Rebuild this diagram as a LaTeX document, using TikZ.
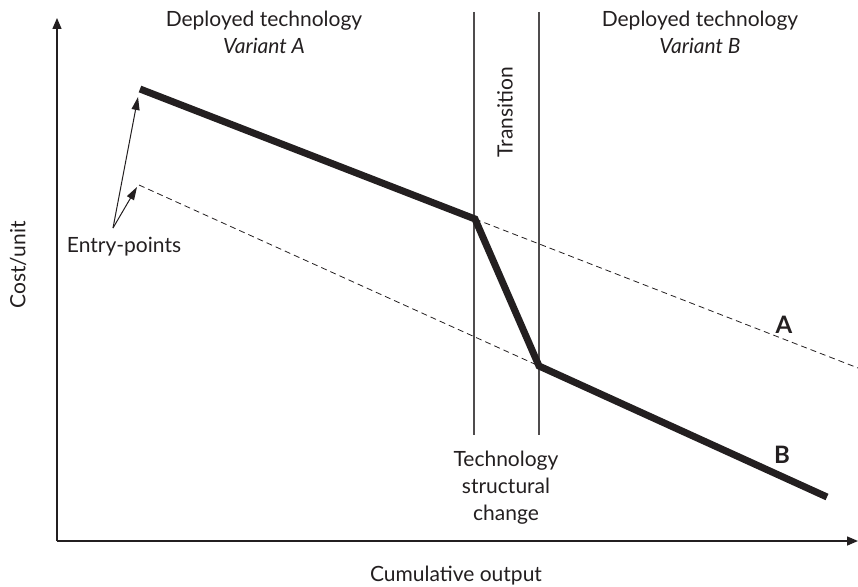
\documentclass[tikz,border=0pt]{standalone}
\usepackage{fontspec}
\setmainfont{Lato}
\usetikzlibrary{arrows.meta}
\definecolor{ink}{HTML}{231F20}
\begin{document}
\begin{tikzpicture}[x=1pt,y=-1pt,
    every node/.style={font=\fontsize{21}{27}\selectfont, text=ink, inner sep=0pt},
    axis/.style={draw=ink, line width=1.5pt, -{Triangle[length=11pt,width=9pt]}},
    cost/.style={draw=ink, line width=7pt},
    trend/.style={draw=ink, line width=0.8pt, dash pattern=on 6pt off 4pt},
    border/.style={draw=ink!80, line width=1.5pt},
    curvename/.style={font=\fontsize{24}{28}\selectfont\bfseries},
    pointer/.style={draw=ink, line width=1pt, -{Triangle[length=13pt,width=8pt]}}]
    \useasboundingbox (0,0) rectangle (858,586);

    \coordinate (origin) at (57,541);
    \coordinate (ytop) at (57,18);
    \coordinate (xend) at (858,541);
    \draw[axis] (origin) -- (ytop);
    \draw[axis] (origin) -- (xend);

    \coordinate (startA) at (140,89);
    \coordinate (kneeA) at (475,219);
    \coordinate (kneeB) at (539,366);
    \coordinate (endB) at (827,497);
    \coordinate (startB) at (139,185);
    \coordinate (endA) at (858,368);

    \draw[border] (474,12) coordinate (lefttop) -- (474,435) coordinate (leftbot);
    \draw[border] (539,12) coordinate (righttop) -- (539,435) coordinate (rightbot);

    \draw[trend] (kneeA) -- (endA);
    \draw[trend] (startB) -- (kneeB);
    \draw[cost] (startA) -- (kneeA) -- (kneeB) -- (endB);

    \node (entry) at (124,247) {Entry-points};
    \coordinate (fork) at (113,228);
    \draw[pointer] (fork) -- (138,97);
    \draw[pointer] (fork) -- (137,187);

    \node[align=center] (varA) at (264,32) {Deployed technology\\\textit{Variant A}};
    \node[align=center] (varB) at (700,32) {Deployed technology\\\textit{Variant B}};
    \node[rotate=90] (trans) at (505,112) {Transition};
    \node[align=center, anchor=north] (change) at (506,451) {Technology\\structural\\change};
    \node[curvename] (labA) at (784,325) {A};
    \node[curvename] (labB) at (782,455) {B};
    \node[rotate=90] (ylab) at (18,265) {Cost/unit};
    \node (xlab) at (456,576) {Cumulative output};
  \end{tikzpicture}
\end{document}
